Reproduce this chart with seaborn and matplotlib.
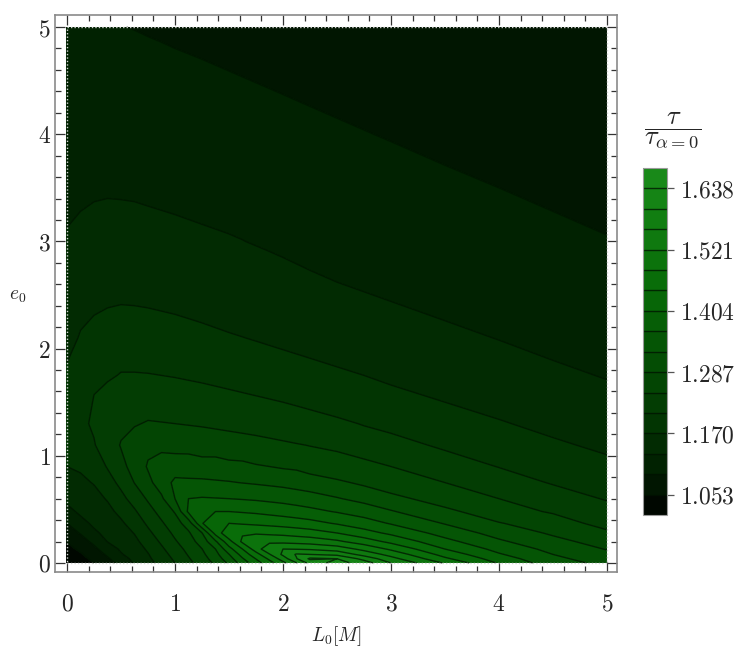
import numpy as np
import seaborn as sns
import matplotlib
matplotlib.use("Agg")
import matplotlib.pyplot as plt
from matplotlib.colors import LinearSegmentedColormap
from matplotlib.ticker import MultipleLocator

# grid (estimated from where each contour crosses a column)
L0_values = [0, 0.125, 0.25, 0.375, 0.5, 0.625, 0.75, 0.875, 1.0, 1.125, 1.25, 1.375,
             1.5, 1.625, 1.75, 1.875, 2.0, 2.125, 2.25, 2.5, 2.75, 3.0, 3.5, 4.0, 4.5, 5.0]
e0_values = [0, 0.04, 0.08, 0.13, 0.2, 0.28, 0.37, 0.48, 0.6, 0.75, 0.9, 1.1, 1.3,
             1.5, 1.75, 2.1, 2.5, 3.0, 3.5, 4.0, 4.5, 5.0]

# tau / tau_(alpha=0): one list per L0 column, running up through e0_values
ratio_by_L0 = [
    [1.020, 1.027, 1.034, 1.043, 1.055, 1.0725, 1.092, 1.1206, 1.1392, 1.1546, 1.170, 1.1816, 1.1931, 1.1885, 1.176, 1.1585, 1.1505, 1.135, 1.1196, 1.113, 1.106, 1.100],
    [1.035, 1.0422, 1.0494, 1.0599, 1.0759, 1.0948, 1.1199, 1.1375, 1.1486, 1.1626, 1.1749, 1.189, 1.203, 1.1954, 1.1859, 1.1727, 1.1573, 1.1408, 1.1233, 1.116, 1.107, 1.098],
    [1.053, 1.0622, 1.0714, 1.0828, 1.101, 1.125, 1.1373, 1.1473, 1.1582, 1.172, 1.187, 1.207, 1.2129, 1.2106, 1.2049, 1.1811, 1.160, 1.1446, 1.1262, 1.1175, 1.1067, 1.096],
    [1.077, 1.087, 1.098, 1.113, 1.132, 1.140, 1.149, 1.160, 1.1728, 1.1937, 1.2118, 1.2259, 1.240, 1.2241, 1.2042, 1.1858, 1.1632, 1.1463, 1.1272, 1.1171, 1.1056, 1.094],
    [1.105, 1.1166, 1.1281, 1.1357, 1.144, 1.1535, 1.1641, 1.1794, 1.1981, 1.2185, 1.2362, 1.2505, 1.2387, 1.2263, 1.2109, 1.1887, 1.1646, 1.1465, 1.1266, 1.1166, 1.1048, 1.0925],
    [1.135, 1.1402, 1.1454, 1.1519, 1.1609, 1.1716, 1.1863, 1.2041, 1.2243, 1.249, 1.2634, 1.2664, 1.2448, 1.2304, 1.2113, 1.1845, 1.1652, 1.1459, 1.1258, 1.1156, 1.1035, 1.0913],
    [1.160, 1.164, 1.168, 1.1751, 1.187, 1.2005, 1.2155, 1.2334, 1.2529, 1.2773, 1.2905, 1.2788, 1.2512, 1.2299, 1.2108, 1.1793, 1.166, 1.1445, 1.124, 1.1145, 1.1021, 1.0898],
    [1.180, 1.187, 1.194, 1.2027, 1.2147, 1.228, 1.243, 1.261, 1.2805, 1.305, 1.3072, 1.2761, 1.2501, 1.2221, 1.209, 1.1863, 1.1602, 1.143, 1.1223, 1.1134, 1.1009, 1.0885],
    [1.209, 1.2158, 1.2226, 1.231, 1.2439, 1.2561, 1.2708, 1.290, 1.326, 1.3344, 1.3073, 1.2735, 1.248, 1.2299, 1.2072, 1.1845, 1.1581, 1.1415, 1.1205, 1.1121, 1.0995, 1.087],
    [1.238, 1.2447, 1.2511, 1.2587, 1.2694, 1.2816, 1.3042, 1.3721, 1.365, 1.3334, 1.3056, 1.2738, 1.2459, 1.228, 1.2048, 1.1822, 1.1551, 1.1396, 1.1186, 1.1109, 1.0983, 1.0857],
    [1.265, 1.2715, 1.278, 1.2862, 1.3039, 1.3247, 1.401, 1.404, 1.368, 1.3329, 1.3037, 1.2666, 1.2447, 1.2261, 1.2023, 1.1797, 1.152, 1.1378, 1.1165, 1.1097, 1.0971, 1.0843],
    [1.2945, 1.3042, 1.3139, 1.326, 1.3589, 1.4176, 1.443, 1.404, 1.3666, 1.3307, 1.3013, 1.2693, 1.2409, 1.2235, 1.1993, 1.1767, 1.1485, 1.1359, 1.1146, 1.1084, 1.0957, 1.0829],
    [1.333, 1.3484, 1.3639, 1.3901, 1.4294, 1.475, 1.443, 1.404, 1.365, 1.3284, 1.2987, 1.2597, 1.2417, 1.221, 1.196, 1.1737, 1.1441, 1.134, 1.1126, 1.1071, 1.0943, 1.0815],
    [1.3826, 1.4004, 1.4192, 1.443, 1.4899, 1.4777, 1.4395, 1.4008, 1.3625, 1.325, 1.295, 1.2639, 1.235, 1.2181, 1.1928, 1.1705, 1.1497, 1.1315, 1.1155, 1.1055, 1.0929, 1.0801],
    [1.426, 1.4446, 1.4666, 1.5011, 1.5141, 1.4771, 1.4359, 1.3975, 1.3598, 1.3219, 1.2911, 1.2501, 1.2454, 1.2153, 1.189, 1.1682, 1.1512, 1.1292, 1.1171, 1.1043, 1.0915, 1.0787],
    [1.4674, 1.4898, 1.5182, 1.553, 1.5118, 1.4742, 1.4319, 1.3926, 1.3559, 1.3186, 1.287, 1.2576, 1.228, 1.2115, 1.1907, 1.1648, 1.1491, 1.1268, 1.1157, 1.1029, 1.0901, 1.0773],
    [1.510, 1.5401, 1.5677, 1.560, 1.5113, 1.4709, 1.4274, 1.3878, 1.352, 1.3152, 1.2827, 1.254, 1.224, 1.209, 1.1891, 1.1612, 1.1469, 1.1242, 1.1143, 1.1015, 1.0887, 1.0758],
    [1.558, 1.597, 1.603, 1.5583, 1.508, 1.4653, 1.4225, 1.382, 1.3468, 1.3104, 1.2803, 1.2503, 1.2196, 1.2068, 1.186, 1.158, 1.1444, 1.1213, 1.1128, 1.100, 1.0873, 1.0744],
    [1.612, 1.645, 1.599, 1.5557, 1.5043, 1.4597, 1.417, 1.3756, 1.3416, 1.3054, 1.2709, 1.2468, 1.2239, 1.201, 1.183, 1.1546, 1.1419, 1.1182, 1.1114, 1.0986, 1.0859, 1.073],
    [1.655, 1.638, 1.5892, 1.5427, 1.4891, 1.443, 1.4005, 1.3622, 1.3288, 1.2939, 1.2594, 1.2431, 1.2163, 1.192, 1.1766, 1.1477, 1.1369, 1.1123, 1.1086, 1.0958, 1.0831, 1.070],
    [1.620, 1.586, 1.5458, 1.5104, 1.4625, 1.4186, 1.3827, 1.347, 1.3145, 1.2801, 1.2589, 1.2278, 1.2069, 1.1907, 1.170, 1.1525, 1.1325, 1.1075, 1.100, 1.093, 1.0805, 1.0672],
    [1.560, 1.534, 1.508, 1.4755, 1.4333, 1.3962, 1.362, 1.329, 1.2992, 1.2626, 1.248, 1.2228, 1.1977, 1.1839, 1.1622, 1.148, 1.128, 1.1163, 1.1033, 1.0902, 1.0781, 1.066],
    [1.478, 1.450, 1.4284, 1.404, 1.3767, 1.350, 1.3236, 1.2968, 1.2674, 1.248, 1.2285, 1.2025, 1.1873, 1.170, 1.1572, 1.1392, 1.1187, 1.1111, 1.0976, 1.0843, 1.0736, 1.062],
    [1.400, 1.3844, 1.3689, 1.353, 1.332, 1.3114, 1.2894, 1.263, 1.248, 1.2278, 1.2077, 1.1908, 1.1735, 1.156, 1.1484, 1.1299, 1.1195, 1.1057, 1.092, 1.081, 1.070, 1.059],
    [1.344, 1.335, 1.326, 1.3145, 1.2985, 1.2814, 1.2647, 1.2443, 1.2278, 1.2061, 1.1939, 1.1762, 1.1585, 1.1521, 1.1386, 1.1196, 1.1139, 1.0999, 1.0858, 1.0773, 1.0672, 1.057],
    [1.315, 1.3057, 1.2963, 1.285, 1.2706, 1.2542, 1.2356, 1.2234, 1.2061, 1.1936, 1.180, 1.1618, 1.1538, 1.1427, 1.1288, 1.1197, 1.1082, 1.0937, 1.0795, 1.0741, 1.0645, 1.055],
]

contour_levels = [1.014, 1.053, 1.092, 1.131, 1.170, 1.209, 1.248, 1.287, 1.326, 1.365,
                  1.404, 1.443, 1.482, 1.521, 1.560, 1.599, 1.638, 1.677]
cbar_ticks = [1.053, 1.170, 1.287, 1.404, 1.521, 1.638]
cbar_labels = ["1.053", "1.170", "1.287", "1.404", "1.521", "1.638"]

sns.set_theme(style="ticks")
plt.rcParams["mathtext.fontset"] = "cm"
plt.rcParams["font.family"] = ["DejaVu Serif"]

green = LinearSegmentedColormap.from_list(
    "blackgreen",
    [(0.0, "#000000"), (0.1, "#011a01"), (0.25, "#023302"), (0.45, "#044e04"),
     (0.65, "#086a08"), (0.85, "#117e11"), (1.0, "#1b8b1b")])

fig = plt.figure(figsize=(7.47, 6.56), dpi=100)
ax = fig.add_axes([55 / 747, 84 / 656, 562 / 747, 557 / 656])

Z = np.array(ratio_by_L0).T
cs = ax.contourf(L0_values, e0_values, Z, levels=contour_levels, cmap=green)
cl = ax.contour(L0_values, e0_values, Z, levels=contour_levels[1:-1],
                colors="#001200", linewidths=1.0, alpha=0.75)

# light dotted border round the plotted region
ax.plot([0, 5, 5, 0, 0], [0, 0, 5, 5, 0], color="#d4d4d4", lw=1.0, ls=(0, (1, 1.5)))

ax.set_xlim(-0.111, 5.093)
ax.set_ylim(-0.084, 5.112)
ax.set_xticks(range(6))
ax.set_xticklabels([f"${i}$" for i in range(6)])
ax.set_yticks(range(6))
ax.set_yticklabels([f"${i}$" for i in range(6)])
ax.xaxis.set_minor_locator(MultipleLocator(0.2))
ax.yaxis.set_minor_locator(MultipleLocator(0.2))
ax.tick_params(which="both", direction="in", top=True, right=True, color="#333333", width=0.9)
ax.tick_params(which="major", length=7, labelsize=17)
ax.tick_params(which="minor", length=4)
ax.tick_params(axis="x", pad=15)
ax.tick_params(axis="y", pad=3)
for s in ax.spines.values():
    s.set_color("#8a8a8a")
    s.set_linewidth(1.2)

ax.set_xlabel(r"$L_0[M]$", fontsize=14, labelpad=6)
ax.set_ylabel(r"$e_0$", fontsize=14, rotation=0, va="center", ha="center")
ax.yaxis.set_label_coords(-0.066, 0.495)

cax = fig.add_axes([643 / 747, 141 / 656, 24 / 747, 347 / 656])
cb = fig.colorbar(cs, cax=cax)
cb.add_lines(cl)
cb.outline.set_edgecolor("#9a9a9a")
cb.outline.set_linewidth(0.8)
cb.set_ticks(cbar_ticks)
cb.set_ticklabels([f"${t}$" for t in cbar_labels])
cax.tick_params(length=5, width=0.9, labelsize=17, color="#555555", pad=4)
fig.text(673 / 747, 1 - 131 / 656, r"$\dfrac{\tau}{\tau_{\alpha=0}}$", fontsize=19,
         ha="center", va="center")

fig.savefig("out.png", dpi=100)
